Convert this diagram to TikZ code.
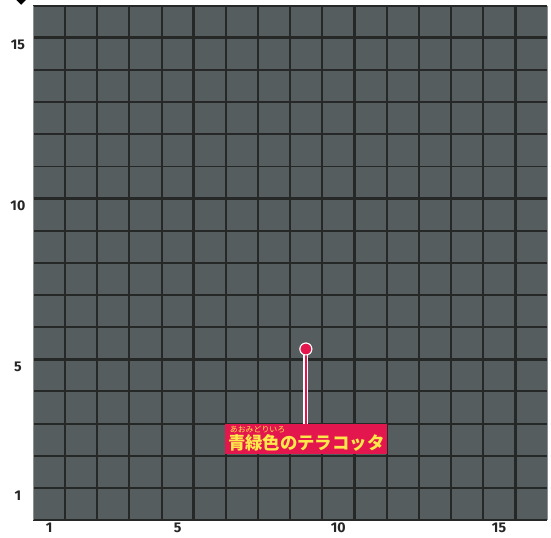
\documentclass[tikz,border=0pt]{standalone}
\usepackage{fontspec}
\setmainfont{Fira Sans}
\newfontfamily\jpfont{Noto Sans CJK JP}
\usetikzlibrary{positioning}
\definecolor{tile}{HTML}{565D5E}
\definecolor{seam}{HTML}{262727}
\definecolor{rim}{HTML}{8C9090}
\definecolor{tagred}{HTML}{E3174D}
\definecolor{tagyellow}{HTML}{FFE94A}
\tikzset{axislabel/.style={font=\bfseries\fontsize{12.5}{12.5}\selectfont, text=black!85, inner sep=0pt},
  seamline/.style={seam, line width=1.7pt},
  chunkline/.style={seam, line width=2.6pt},
  pinhead/.style={circle, fill=tagred, draw=white, line width=0.9pt, minimum size=0.37cm, inner sep=0pt},
  tagbox/.style={fill=tagred, minimum width=5.04cm, minimum height=0.94cm, inner sep=0pt},
  tagtext/.style={text=tagyellow, inner sep=0pt, font=\jpfont\bfseries\fontsize{15.4}{16}\selectfont},
  rubytext/.style={text=tagyellow, inner sep=0pt, font=\jpfont\fontsize{7}{7}\selectfont}}

\begin{document}
\begin{tikzpicture}
       \useasboundingbox (-1.027,-0.529) rectangle (16.117,16.18);
       \fill[tile] (0,0) rectangle (16,16);
       \foreach \i in {1,...,15} {
        \draw[seamline] (\i,0) -- (\i,16);
        \draw[seamline] (0,\i) -- (16,\i);
       }
       \foreach \i in {5,10,15} {
        \draw[chunkline] (\i,0) -- (\i,16);
        \draw[chunkline] (0,\i) -- (16,\i);
       }
       \draw[seamline] (0,16) -- (16,16);
       \draw[seamline] (0,0) -- (16,0);
       \draw[rim, line width=0.8pt] (0,0) -- (0,16);
       \draw[rim, line width=0.8pt] (16,0) -- (16,16);
       \fill[black] (-0.52,16.18) -- (-0.22,16.18) -- (-0.37,16.03) -- cycle;
       \foreach \n in {1,5,10,15} {
        \node[axislabel] (col\n) at (\n-0.5,-0.25) {\n};
        \node[axislabel] (row\n) at (-0.47,\n-0.23) {\n};
       }
       \node[pinhead] (pin) at (8.49,5.32) {};
       \node[tagbox, anchor=north west] (tag) at (5.97,2.99) {};
       \node[rubytext, anchor=west] (ruby) at ([xshift=0.15cm, yshift=-0.19cm]tag.north west) {あおみどりいろ};
       \node[tagtext, anchor=west] (name) at ([xshift=0.09cm, yshift=-0.11cm]tag.west) {青緑色のテラコッタ};
       \draw[white, line width=4.6pt] (pin.south) -- (pin |- tag.north);
       \draw[tagred, line width=1.8pt] (pin.south) -- (pin |- tag.north);
       \node[pinhead] at (pin) {};
\end{tikzpicture}
\end{document}
